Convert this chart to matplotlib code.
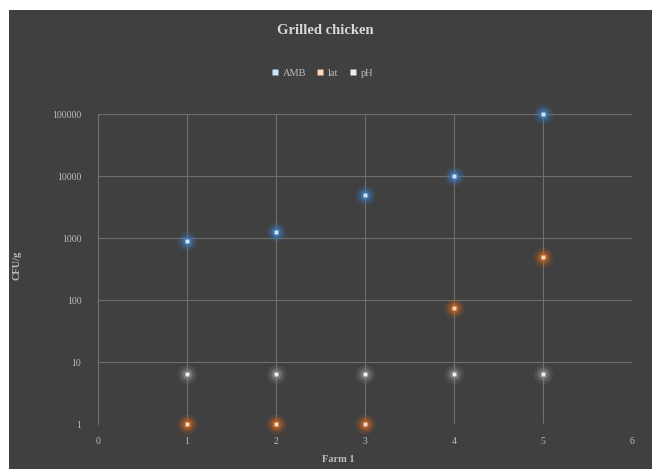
import matplotlib
matplotlib.use('Agg')
from matplotlib import pyplot as plt
from matplotlib.patches import Rectangle
from matplotlib.ticker import FixedLocator, FixedFormatter, NullLocator

# data
farms = [1, 2, 3, 4, 5]
amb = [900, 1250, 5000, 10000, 100000]
lat = [1, 1, 1, 75, 500]
ph = [6.5, 6.3, 6.3, 6.3, 6.3]
y_ticks = [1, 10, 100, 1000, 10000, 100000]
y_labels = ['1', '10', '100', '1000', '10000', '100000']
x_ticks = [0, 1, 2, 3, 4, 5, 6]

plt.rcParams['font.family'] = ['Liberation Serif', 'DejaVu Serif']

bg = '#404040'
grid_c = '#6e6e6e'
txt_c = '#bdbdbd'

fig = plt.figure(figsize=(6.52, 4.69), dpi=100)
fig.patch.set_facecolor('white')
fig.patches.append(Rectangle((9 / 652, 0), 1, 1 - 10 / 469, transform=fig.transFigure,
                             facecolor=bg, edgecolor='none', zorder=-10))

ax = fig.add_axes([98 / 652, 1 - 424 / 469, (632 - 98) / 652, (424 - 114) / 469])
ax.set_facecolor(bg)
ax.set_yscale('log')
ax.set_ylim(1, 100000)
ax.set_xlim(0, 6)

for s in ['top', 'right', 'bottom']:
    ax.spines[s].set_visible(False)
ax.spines['left'].set_color(grid_c)
ax.spines['left'].set_linewidth(0.8)

ax.yaxis.set_major_locator(FixedLocator(y_ticks))
ax.yaxis.set_major_formatter(FixedFormatter(y_labels))
ax.yaxis.set_minor_locator(NullLocator())
ax.set_xticks(x_ticks)
ax.tick_params(axis='both', length=0, colors=txt_c, labelsize=7)
ax.tick_params(axis='x', pad=9)
ax.tick_params(axis='y', pad=12)
ax.grid(True, color=grid_c, linewidth=0.8)
ax.set_axisbelow(True)

series = [
    ('AMB', amb, '#3d7fc4', '#cfe4fa'),
    ('lat', lat, '#d0651f', '#fbd8bd'),
    ('pH', ph, '#8a8a8a', '#eeeeee'),
]

handles = []
for name, vals, glow, core in series:
    for size, a in [(14, 0.16), (10, 0.28), (7, 0.5)]:
        ax.plot(farms, vals, linestyle='none', marker='o', markersize=size,
                markerfacecolor=glow, markeredgecolor='none', alpha=a,
                clip_on=False, zorder=3)
    h, = ax.plot(farms, vals, linestyle='none', marker='s', markersize=3.5,
                 markerfacecolor=core, markeredgecolor='none',
                 clip_on=False, zorder=4, label=name)
    handles.append(h)

ax.set_ylabel('CFU/g', color=txt_c, fontsize=7.5, fontweight='bold')
ax.yaxis.set_label_coords(-76 / 534, (424 - 265) / 310)
ax.set_xlabel('Farm 1', color=txt_c, fontsize=7.5, fontweight='bold')
ax.xaxis.set_label_coords((338 - 98) / 534, -(459 - 424) / 310)
ax.xaxis.label.set_va('center')

fig.text(325 / 652, 1 - 31 / 469, 'Grilled chicken', ha='center', va='center',
         color='#d9d9d9', fontsize=10.5, fontweight='bold')

leg = fig.legend(handles=handles, loc='center', bbox_to_anchor=(322 / 652, 1 - 73 / 469),
                 ncol=3, frameon=False, fontsize=7.5, handlelength=0.7,
                 handletextpad=0.4, columnspacing=1.0, markerscale=1.3)
for t in leg.get_texts():
    t.set_color(txt_c)

fig.savefig('out.png', dpi=100, facecolor=fig.get_facecolor())
